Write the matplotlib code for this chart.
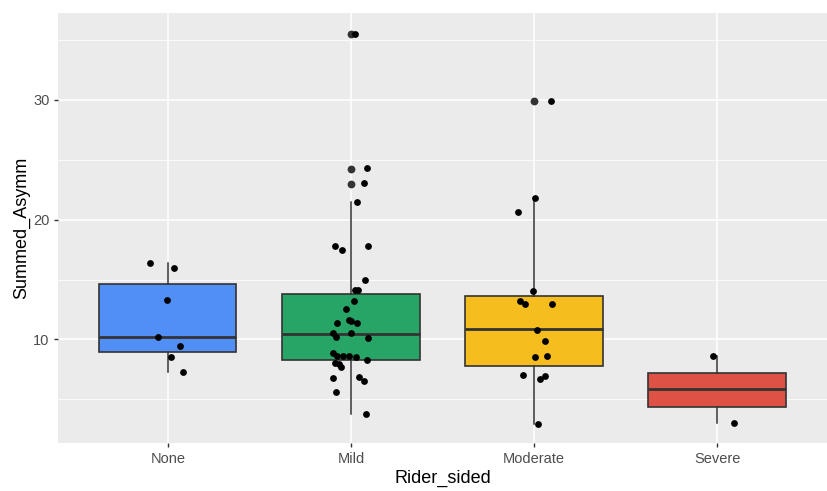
import numpy as np
import matplotlib
matplotlib.use("Agg")
from matplotlib import pyplot as plt

plt.rcParams['font.family'] = ['Liberation Sans', 'DejaVu Sans']

# categories and fill colours
categories = ["None", "Mild", "Moderate", "Severe"]
fills = ["#518EF5", "#27A567", "#F5BD1E", "#DD5244"]

# box statistics
q1 = [8.93, 8.31, 7.79, 4.36]
medians = [10.23, 10.43, 10.88, 5.86]
q3 = [14.66, 13.83, 13.61, 7.18]
whis_lo = [7.30, 3.75, 2.92, 3.02]
whis_hi = [16.42, 21.49, 21.80, 8.62]
outliers = [[], [23.0, 24.2, 35.5], [29.9], []]

# jittered points: values and horizontal offsets from the category centre
none_y = [16.42, 16.00, 13.30, 10.18, 9.46, 8.51, 7.28]
none_dx = [-0.096, 0.034, -0.005, -0.052, 0.069, 0.018, 0.081]

mild_y = [35.52, 24.30, 23.05, 21.49, 17.81, 17.48, 17.81, 14.95, 14.11, 14.11,
          13.22, 12.55, 11.65, 11.57, 11.38, 11.35, 10.54, 10.18, 10.52, 10.10,
          8.85, 8.62, 8.62, 8.65, 8.57, 8.26, 8.01, 7.95, 7.68, 6.76,
          6.87, 6.56, 5.59, 3.75]
mild_dx = [0.020, 0.086, 0.074, 0.032, -0.086, -0.047, 0.094, 0.079, 0.022, 0.036,
           0.015, -0.027, -0.012, 0.002, 0.034, -0.074, -0.096, -0.081, -0.002, 0.092,
           -0.096, -0.074, -0.045, -0.012, 0.027, 0.088, -0.085, -0.065, -0.052, -0.096,
           0.042, 0.074, -0.081, 0.081]

moderate_y = [29.92, 21.80, 20.65, 14.03, 13.19, 12.99, 12.99, 10.82, 9.87, 8.62,
              8.54, 7.06, 6.98, 6.68, 2.92]
moderate_dx = [0.094, 0.007, -0.086, -0.007, -0.074, -0.047, 0.096, 0.015, 0.061, 0.069,
               0.007, -0.061, 0.061, 0.032, 0.020]

severe_y = [8.62, 3.02]
severe_dx = [-0.025, 0.094]

points_y = [none_y, mild_y, moderate_y, severe_y]
points_dx = [none_dx, mild_dx, moderate_dx, severe_dx]

fig = plt.figure(figsize=(8.27, 4.91), dpi=100)
ax = fig.add_axes([0.0701, 0.0971, 0.9299, 0.876])
ax.set_facecolor("#EBEBEB")

positions = np.arange(1, len(categories) + 1)
stats = []
for i, cat in enumerate(categories):
    stats.append(dict(label=cat, q1=q1[i], med=medians[i], q3=q3[i],
                      whislo=whis_lo[i], whishi=whis_hi[i], fliers=outliers[i]))

edge = "#333333"
bp = ax.bxp(stats, positions=positions, widths=0.75, patch_artist=True,
            showcaps=False,
            boxprops=dict(edgecolor=edge, linewidth=1.2),
            whiskerprops=dict(color=edge, linewidth=1.1),
            medianprops=dict(color=edge, linewidth=2.0),
            flierprops=dict(marker="o", markerfacecolor=edge, markeredgecolor=edge,
                            markersize=4.6, linestyle="none"),
            zorder=3)
for patch, c in zip(bp["boxes"], fills):
    patch.set_facecolor(c)

for i in range(len(categories)):
    xs = positions[i] + np.array(points_dx[i])
    ax.scatter(xs, points_y[i], s=24, color="black", zorder=4, linewidths=0)

ax.set_xlim(0.4, 4.6)
ax.set_ylim(1.33, 37.24)
ax.set_yticks([10, 20, 30])
ax.set_yticks([5, 15, 25, 35], minor=True)
ax.set_xticks(positions)
ax.set_xticklabels(categories)

ax.grid(True, which="major", color="white", linewidth=1.1, zorder=0)
ax.grid(True, which="minor", axis="y", color="white", linewidth=0.55, zorder=0)
ax.set_axisbelow(True)
for s in ax.spines.values():
    s.set_visible(False)

ax.tick_params(axis="both", which="major", length=3, width=1, color="#333333",
               labelsize=10.5, labelcolor="#4D4D4D", pad=3)
ax.tick_params(axis="y", which="minor", length=0)

ax.set_xlabel("Rider_sided", fontsize=13, color="black", labelpad=3)
ax.set_ylabel("Summed_Asymm", fontsize=13, color="black", labelpad=2)

fig.savefig("out.png", dpi=100)
